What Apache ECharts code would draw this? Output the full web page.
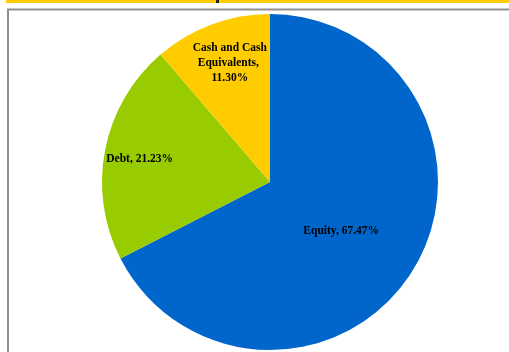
<!DOCTYPE html>
<html>
<head>
<meta charset="utf-8">
<script src="https://cdn.jsdelivr.net/npm/echarts@6/dist/echarts.min.js"></script>
<style>
html,body{margin:0;padding:0;background:#fff;}
#c{width:509px;height:352px;}
</style>
</head>
<body>
<div id="c"></div>
<script>
var categories = ['Equity', 'Debt', 'Cash and Cash\nEquivalents'];
var values = [67.47, 21.23, 11.30];
var colors = ['#0066CC', '#99CC00', '#FFCC00'];
var labelShift = [[-3, 4], [-45, -6], [-10, -37]];

var chart = echarts.init(document.getElementById('c'), null, {renderer: 'canvas'});
var data = categories.map(function (n, i) {
  return {name: n, value: values[i], itemStyle: {color: colors[i]}, label: {offset: labelShift[i]}};
});
chart.setOption({
  animation: false,
  graphic: [
    {type: 'rect', shape: {x: 6, y: 0, width: 510, height: 3}, style: {fill: '#FFCC00'}, z: 10},
    {type: 'rect', shape: {x: 216, y: 0, width: 3, height: 3}, style: {fill: '#222'}, z: 11},
    {type: 'rect', shape: {x: 8, y: 9.5, width: 520, height: 360}, style: {fill: 'none', stroke: '#8f8f8f', lineWidth: 2}, z: 10}
  ],
  series: [{
    type: 'pie',
    center: [270, 182],
    radius: [0, 168],
    startAngle: 90,
    clockwise: true,
    data: data,
    itemStyle: {borderWidth: 0},
    label: {
      show: true,
      position: 'inside',
      color: '#000',
      fontFamily: '"Liberation Serif", "Times New Roman", serif',
      fontWeight: 'bold',
      fontSize: 11.5,
      lineHeight: 15,
      align: 'center',
      formatter: function (p) { return p.name + ', ' + (p.name.indexOf('\n') >= 0 ? '\n' : '') + p.value.toFixed(2) + '%'; }
    },
    labelLine: {show: false},
    emphasis: {disabled: true}
  }]
});
</script>
</body>
</html>
